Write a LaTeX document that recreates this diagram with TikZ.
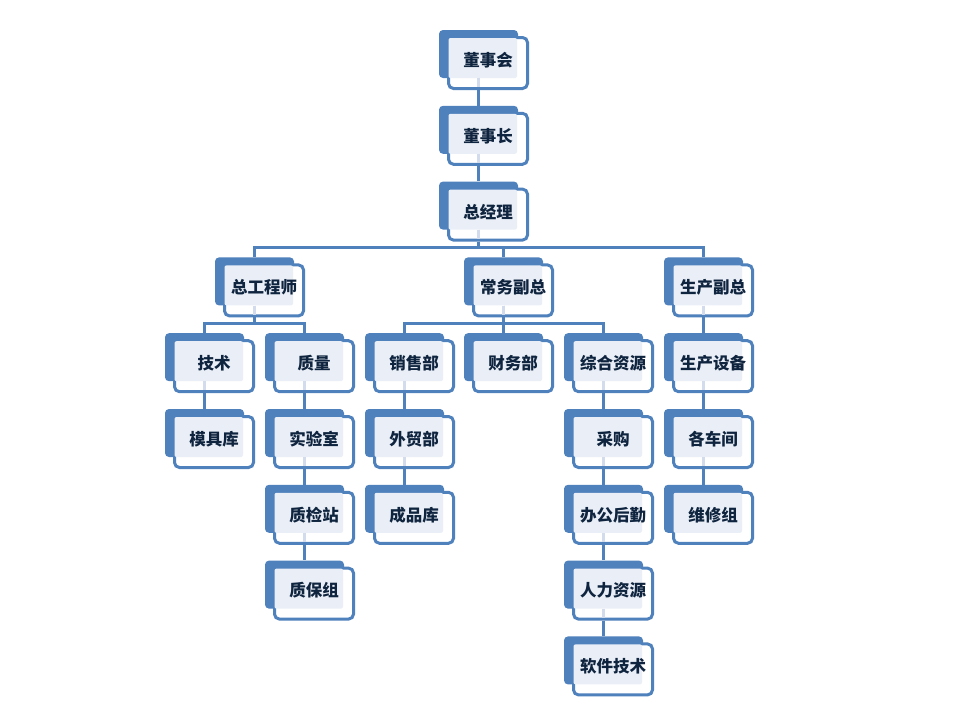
\documentclass[tikz,border=0pt]{standalone}
\usepackage{fontspec}
\newfontfamily\cjk{Noto Sans CJK SC}
\definecolor{orgblue}{HTML}{4F81BD}
\definecolor{orglight}{HTML}{EAEFF7}
\definecolor{orgfaint}{HTML}{D3DCEC}
\definecolor{orgtext}{HTML}{0F243E}
\tikzset{
  darkbox/.style={fill=orgblue, draw=none, rounded corners=4pt, minimum width=79pt, minimum height=48pt, inner sep=0pt},
  whitebox/.style={fill=white, draw=orgblue, line width=3pt, rounded corners=5pt, minimum width=79pt, minimum height=51pt, inner sep=0pt},
  lightbox/.style={fill=orglight, draw=none, rounded corners=2pt, minimum width=68.5pt, minimum height=40pt, inner sep=0pt},
  lbl/.style={font=\cjk\bfseries\fontsize{16.5}{18}\selectfont, text=orgtext, inner sep=0pt},
  conn/.style={draw=orgblue, line width=3pt},
  faint/.style={draw=orgfaint, line width=3pt},
}
\newcommand\orgbox[4]{%
  \node[darkbox] (#1-d) at (#2+39.5, #3+24) {};
  \node[whitebox] (#1) at (#2+49, #3+33) {};
  \node[lightbox] (#1-l) at (#2+43.75, #3+28) {};
  \node[lbl] (#1-t) at (#2+49, #3+30) {#4};
}
\newcommand\chain[2]{%
  \draw[faint] (#1-d.south) -- ++(0,9);
  \draw[conn] (#1-d.center |- #1.south) -- (#2-d.north);
}
\newcommand\branch[2]{%
  \draw[faint] (#1-d.south) -- ++(0,9);
  \draw[conn] (#1-d.center |- #1.south) -- ++(0,6) -| (#2-d.north);
}
\begin{document}
\begin{tikzpicture}[x=1pt, y=-1pt]
\useasboundingbox (0,0) rectangle (960,720);
\fill[white] (0,0) rectangle (960,720);

\def\ra{30}\def\rb{105.8}\def\rc{181.6}\def\rd{257.4}\def\re{333.2}
\def\rf{409}\def\rg{484.8}\def\rh{560.6}\def\ri{636.4}

\orgbox{dsh}{439}{\ra}{董事会}
\orgbox{dsz}{439}{\rb}{董事长}
\orgbox{zjl}{439}{\rc}{总经理}
\orgbox{zgcs}{215}{\rd}{总工程师}
\orgbox{cwfz}{464}{\rd}{常务副总}
\orgbox{scfz}{664}{\rd}{生产副总}
\orgbox{js}{165}{\re}{技术}
\orgbox{zl}{265}{\re}{质量}
\orgbox{xsb}{365}{\re}{销售部}
\orgbox{cwb}{464}{\re}{财务部}
\orgbox{zhzy}{564}{\re}{综合资源}
\orgbox{scsb}{664}{\re}{生产设备}
\orgbox{mjk}{165}{\rf}{模具库}
\orgbox{sys}{265}{\rf}{实验室}
\orgbox{wmb}{365}{\rf}{外贸部}
\orgbox{cg}{564}{\rf}{采购}
\orgbox{gcj}{664}{\rf}{各车间}
\orgbox{zjz}{265}{\rg}{质检站}
\orgbox{cpk}{365}{\rg}{成品库}
\orgbox{bghq}{564}{\rg}{办公后勤}
\orgbox{wxz}{664}{\rg}{维修组}
\orgbox{zbz}{265}{\rh}{质保组}
\orgbox{rlzy}{564}{\rh}{人力资源}
\orgbox{rjjs}{564}{\ri}{软件技术}

\chain{dsh}{dsz}
\chain{dsz}{zjl}
\branch{zjl}{zgcs}
\branch{zjl}{cwfz}
\branch{zjl}{scfz}
\branch{zgcs}{js}
\branch{zgcs}{zl}
\branch{cwfz}{xsb}
\branch{cwfz}{cwb}
\branch{cwfz}{zhzy}
\chain{scfz}{scsb}
\chain{js}{mjk}
\chain{zl}{sys}
\chain{sys}{zjz}
\chain{zjz}{zbz}
\chain{xsb}{wmb}
\chain{wmb}{cpk}
\chain{zhzy}{cg}
\chain{cg}{bghq}
\chain{bghq}{rlzy}
\chain{rlzy}{rjjs}
\chain{scsb}{gcj}
\chain{gcj}{wxz}
\end{tikzpicture}
\end{document}
